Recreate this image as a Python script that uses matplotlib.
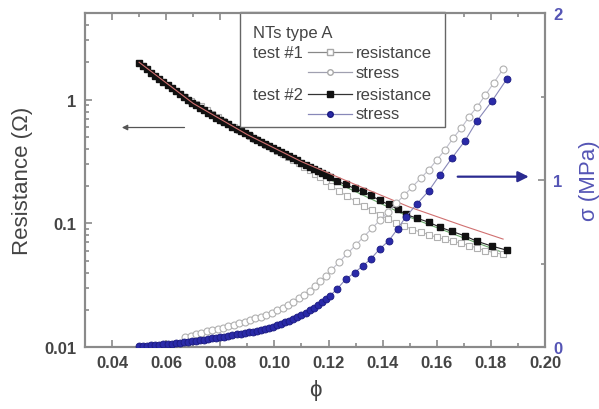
import matplotlib
matplotlib.use("Agg")
import matplotlib.pyplot as plt
from matplotlib.patches import Rectangle
from matplotlib.ticker import FixedLocator, FixedFormatter, LogLocator, NullFormatter

plt.rcParams['font.family'] = ['Liberation Sans', 'DejaVu Sans']

# test #2 (filled markers): strain, resistance (ohm), stress (MPa)
phi2 = [0.0500, 0.0515, 0.0530, 0.0545, 0.0560, 0.0575, 0.0590, 0.0605, 0.0620, 0.0635,
        0.0650, 0.0665, 0.0680, 0.0695, 0.0710, 0.0725, 0.0740, 0.0755, 0.0770, 0.0785,
        0.0800, 0.0815, 0.0830, 0.0845, 0.0860, 0.0875, 0.0890, 0.0905, 0.0920, 0.0935,
        0.0950, 0.0965, 0.0980, 0.0995, 0.1010, 0.1025, 0.1040, 0.1055, 0.1070, 0.1085,
        0.1100, 0.1115, 0.1130, 0.1145, 0.1160, 0.1175, 0.1190, 0.1205,
        0.1233, 0.1263, 0.1296, 0.1326, 0.1356, 0.1389, 0.1422, 0.1455, 0.1485, 0.1526,
        0.1570, 0.1611, 0.1656, 0.1704, 0.1748, 0.1804, 0.1859]
res2 = [1.99, 1.87, 1.76, 1.65, 1.56, 1.47, 1.38, 1.31, 1.24, 1.17,
        1.11, 1.05, 0.99, 0.945, 0.90, 0.86, 0.82, 0.78, 0.745, 0.714,
        0.684, 0.656, 0.630, 0.604, 0.580, 0.556, 0.534, 0.513, 0.493, 0.475,
        0.457, 0.440, 0.424, 0.408, 0.393, 0.378, 0.364, 0.351, 0.337, 0.323,
        0.309, 0.297, 0.286, 0.275, 0.265, 0.255, 0.246, 0.237,
        0.218, 0.206, 0.191, 0.181, 0.168, 0.153, 0.142, 0.130, 0.118, 0.110,
        0.102, 0.093, 0.086, 0.079, 0.0716, 0.0653, 0.0606]
stress2 = [0.005, 0.007, 0.008, 0.010, 0.012, 0.014, 0.016, 0.019, 0.021, 0.024,
           0.026, 0.028, 0.031, 0.034, 0.037, 0.041, 0.044, 0.047, 0.051, 0.054,
           0.058, 0.062, 0.066, 0.070, 0.075, 0.079, 0.083, 0.088, 0.092, 0.097,
           0.103, 0.109, 0.115, 0.122, 0.131, 0.140, 0.149, 0.158, 0.168, 0.179,
           0.190, 0.205, 0.220, 0.235, 0.252, 0.270, 0.288, 0.306,
           0.350, 0.405, 0.445, 0.485, 0.527, 0.587, 0.635, 0.707, 0.778, 0.856,
           0.934, 1.030, 1.132, 1.234, 1.353, 1.473, 1.605]

# test #1 (open markers)
phi1 = [0.067, 0.069, 0.071, 0.073, 0.075, 0.077, 0.079, 0.081, 0.083, 0.085,
        0.087, 0.089, 0.091, 0.093, 0.095, 0.097, 0.099, 0.101, 0.103, 0.105,
        0.107, 0.109, 0.111, 0.113, 0.115, 0.117, 0.119, 0.121,
        0.124, 0.127, 0.130, 0.133, 0.136, 0.139, 0.142, 0.145, 0.148, 0.151,
        0.154, 0.157, 0.160, 0.163, 0.166, 0.169, 0.172, 0.175, 0.178, 0.181, 0.1845]
res1 = [1.04, 0.97, 0.92, 0.88, 0.82, 0.77, 0.72, 0.675, 0.635, 0.600,
        0.565, 0.535, 0.505, 0.478, 0.453, 0.430, 0.406, 0.385, 0.365, 0.345,
        0.325, 0.305, 0.285, 0.267, 0.250, 0.235, 0.218, 0.200,
        0.182, 0.165, 0.150, 0.138, 0.127, 0.117, 0.108, 0.101, 0.095, 0.089,
        0.085, 0.081, 0.077, 0.074, 0.0716, 0.069, 0.066, 0.063, 0.060, 0.058, 0.056]
stress1 = [0.060, 0.068, 0.076, 0.085, 0.093, 0.100, 0.108, 0.116, 0.124, 0.133,
           0.142, 0.152, 0.162, 0.172, 0.182, 0.193, 0.205, 0.219, 0.235, 0.253,
           0.272, 0.292, 0.313, 0.338, 0.365, 0.395, 0.425, 0.46,
           0.51, 0.56, 0.61, 0.66, 0.71, 0.76, 0.81, 0.86, 0.91, 0.96,
           1.01, 1.06, 1.12, 1.18, 1.25, 1.31, 1.38, 1.44, 1.51, 1.58, 1.665]

# thin fit curves through the resistance data
fit_phi = [0.050, 0.070, 0.090, 0.110, 0.130, 0.150, 0.170, 0.1845]
fit_red = [2.00, 0.93, 0.52, 0.315, 0.205, 0.135, 0.095, 0.0745]
fit_green = [2.00, 0.92, 0.50, 0.29, 0.18, 0.112, 0.076, 0.058]

x_ticks = [0.04, 0.06, 0.08, 0.10, 0.12, 0.14, 0.16, 0.18, 0.20]
x_labels = ['0.04', '0.06', '0.08', '0.10', '0.12', '0.14', '0.16', '0.18', '0.20']
res_ticks = [0.01, 0.1, 1]
res_labels = ['0.01', '0.1', '1']
stress_ticks = [0, 1, 2]
stress_labels = ['0', '1', '2']

grey = '#8a8a8a'
txt = '#444444'
blue = '#2a2aa8'
blue_txt = '#5555b5'

fig = plt.figure(figsize=(5.99, 4.10), dpi=100)
ax = fig.add_axes([0.1419, 0.1512, 0.768, 0.8146])
ax2 = ax.twinx()

# resistance (left, log)
ax.plot(fit_phi, fit_green, color='#6aa86a', lw=0.8, zorder=2)
ax.plot(phi1, res1, color='#b8b8b8', lw=0.8, marker='s', ms=4.5, mfc='white',
        mec='#b0b0b0', mew=0.8, zorder=3)
ax.plot(phi2, res2, color='#222222', lw=0.8, marker='s', ms=4.5, mfc='#111111',
        mec='#111111', zorder=4)
ax.plot(fit_phi, fit_red, color='#d07070', lw=0.8, zorder=5)

ax.set_yscale('log')
ax.set_xlim(0.03, 0.20)
ax.set_ylim(0.01, 5)
ax.xaxis.set_major_locator(FixedLocator(x_ticks))
ax.xaxis.set_major_formatter(FixedFormatter(x_labels))
ax.xaxis.set_minor_locator(FixedLocator([0.03, 0.05, 0.07, 0.09, 0.11, 0.13, 0.15, 0.17, 0.19]))
ax.yaxis.set_major_locator(FixedLocator(res_ticks))
ax.yaxis.set_major_formatter(FixedFormatter(res_labels))
ax.yaxis.set_minor_locator(LogLocator(base=10, subs=range(2, 10)))
ax.yaxis.set_minor_formatter(NullFormatter())

# stress (right, linear)
ax2.plot(phi1, stress1, color='#c0c0cc', lw=0.8, marker='o', ms=5, mfc='white',
         mec='#b0b0b0', mew=0.8, zorder=3)
ax2.plot(phi2, stress2, color='#8888b8', lw=0.8, marker='o', ms=5, mfc=blue,
         mec='#1a1a80', mew=0.6, zorder=4)
ax2.set_ylim(0, 2)
ax2.yaxis.set_major_locator(FixedLocator(stress_ticks))
ax2.yaxis.set_major_formatter(FixedFormatter(stress_labels))
ax2.yaxis.set_minor_locator(FixedLocator([0.5, 1.5]))

for a in (ax, ax2):
    for s in a.spines.values():
        s.set_color(grey)
        s.set_linewidth(1.5)
ax.tick_params(which='both', direction='in', top=True, color=grey, width=1.2)
ax.tick_params(which='major', length=5, labelsize=12, labelcolor=txt, pad=6)
ax.tick_params(which='minor', length=3)
ax2.tick_params(which='both', direction='in', color=grey, width=1.2)
ax2.tick_params(which='major', length=5, labelsize=12, labelcolor=blue_txt, pad=6)
ax2.tick_params(which='minor', length=3)
for lab in ax.get_xticklabels() + ax.get_yticklabels() + ax2.get_yticklabels():
    lab.set_fontweight('bold')

ax.set_xlabel('ϕ', fontsize=16, color=txt, labelpad=6)
ax.set_ylabel('Resistance (Ω)', fontsize=16, color=txt, labelpad=8)
ax2.set_ylabel('σ (MPa)', fontsize=16, color=blue_txt, labelpad=12)

# arrows pointing to each axis
ax.annotate('', xy=(0.0426, 0.594), xytext=(0.0678, 0.594),
            arrowprops=dict(arrowstyle='-|>', color='#555555', lw=0.9, mutation_scale=8))
ax2.annotate('', xy=(0.1950, 1.02), xytext=(0.1667, 1.02),
             arrowprops=dict(arrowstyle='-|>', color='#2a2a90', lw=1.6, mutation_scale=16))

# legend box
t = ax.transAxes
ax.add_patch(Rectangle((0.337, 0.659), 0.446, 0.344, transform=t, fill=True,
                       facecolor='white', edgecolor='#666666', lw=1.0, zorder=10, clip_on=False))
ax.text(0.365, 0.943, 'NTs type A', transform=t, fontsize=12, color=txt,
        va='center', ha='left', zorder=11)
rows = [0.883, 0.823, 0.757, 0.698]
ax.text(0.365, rows[0], 'test #1', transform=t, fontsize=12, color=txt, va='center', zorder=11)
ax.text(0.365, rows[2], 'test #2', transform=t, fontsize=12, color=txt, va='center', zorder=11)
styles = [('s', 'white', '#a8a8a8', '#888888', 'resistance'),
          ('o', 'white', '#a8a8a8', '#a0a0b0', 'stress'),
          ('s', '#111111', '#111111', '#333333', 'resistance'),
          ('o', blue, '#1a1a80', '#8888b8', 'stress')]
for y, (m, fc, ec, lc, lab) in zip(rows, styles):
    ax.plot([0.485, 0.580], [y, y], transform=t, color=lc, lw=0.9, zorder=11, clip_on=False)
    ax.plot([0.533], [y], transform=t, marker=m, ms=4, mfc=fc, mec=ec, zorder=12, clip_on=False)
    ax.text(0.589, y, lab, transform=t, fontsize=12, color=txt, va='center', zorder=11)

fig.savefig('out.png', dpi=100)
